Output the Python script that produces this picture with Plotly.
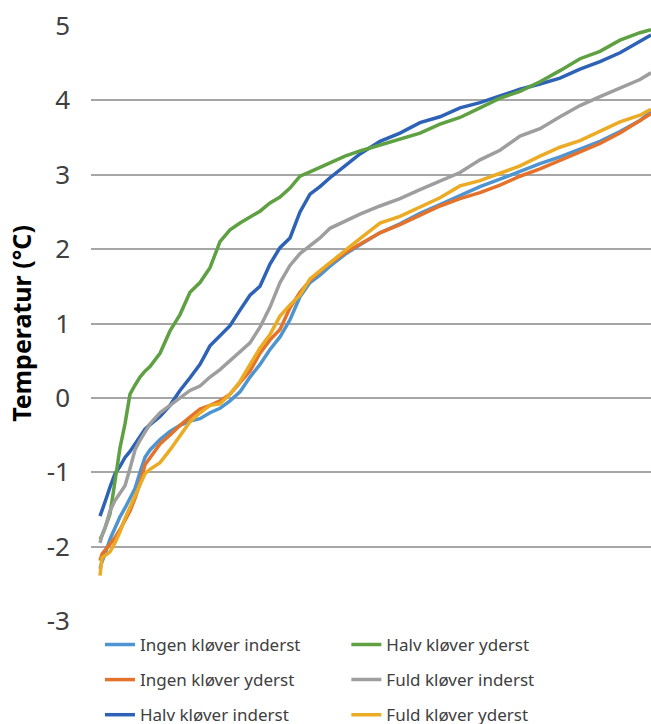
import plotly.graph_objects as go

# sample positions (time steps, axis unlabeled)
steps = [0, 2, 5, 10, 15, 20, 25, 30, 35, 40, 45, 50, 60, 70, 80, 90, 100, 110, 120, 130,
         140, 150, 160, 170, 180, 190, 200, 210, 220, 230, 245, 260, 280, 300, 320, 340,
         360, 380, 400, 420, 440, 460, 480, 500, 520, 540, 551]

ingen_inderst = [-2.3, -2.2, -2.1, -1.9, -1.75, -1.6, -1.48, -1.35, -1.22, -1.0, -0.8, -0.7,
                 -0.56, -0.45, -0.37, -0.31, -0.28, -0.2, -0.14, -0.04, 0.08, 0.28, 0.45, 0.65,
                 0.82, 1.05, 1.36, 1.55, 1.65, 1.77, 1.93, 2.06, 2.22, 2.34, 2.48, 2.60, 2.72,
                 2.84, 2.94, 3.05, 3.15, 3.24, 3.34, 3.45, 3.58, 3.73, 3.85]
ingen_yderst = [-2.19, -2.1, -2.05, -1.97, -1.88, -1.77, -1.65, -1.52, -1.35, -1.15, -0.9, -0.8,
                -0.62, -0.5, -0.37, -0.26, -0.15, -0.1, -0.04, 0.05, 0.2, 0.36, 0.6, 0.78,
                0.92, 1.21, 1.42, 1.58, 1.7, 1.81, 1.95, 2.06, 2.22, 2.33, 2.45, 2.58, 2.68,
                2.76, 2.86, 2.98, 3.08, 3.19, 3.30, 3.42, 3.56, 3.72, 3.82]
halv_inderst = [-1.59, -1.5, -1.4, -1.2, -1.02, -0.92, -0.8, -0.72, -0.62, -0.5, -0.42, -0.36,
                -0.25, -0.1, 0.1, 0.27, 0.45, 0.7, 0.84, 0.97, 1.18, 1.38, 1.5, 1.8,
                2.02, 2.15, 2.5, 2.74, 2.84, 2.96, 3.12, 3.28, 3.45, 3.56, 3.70, 3.78, 3.90,
                3.97, 4.06, 4.15, 4.22, 4.30, 4.42, 4.52, 4.64, 4.80, 4.88]
halv_yderst = [-1.9, -1.85, -1.75, -1.56, -1.12, -0.67, -0.35, 0.05, 0.17, 0.28, 0.36, 0.42,
               0.6, 0.9, 1.12, 1.42, 1.55, 1.75, 2.1, 2.26, 2.35, 2.43, 2.51, 2.62,
               2.70, 2.82, 2.98, 3.04, 3.10, 3.17, 3.25, 3.32, 3.40, 3.48, 3.56, 3.68, 3.77,
               3.90, 4.03, 4.12, 4.25, 4.40, 4.56, 4.66, 4.81, 4.91, 4.95]
fuld_inderst = [-1.95, -1.85, -1.75, -1.52, -1.38, -1.28, -1.18, -0.95, -0.7, -0.57, -0.45, -0.35,
                -0.2, -0.1, 0.0, 0.1, 0.16, 0.28, 0.38, 0.5, 0.62, 0.74, 0.95, 1.22,
                1.55, 1.78, 1.94, 2.05, 2.15, 2.28, 2.38, 2.47, 2.58, 2.68, 2.80, 2.92, 3.03,
                3.20, 3.33, 3.52, 3.62, 3.78, 3.93, 4.05, 4.16, 4.28, 4.37]
fuld_yderst = [-2.39, -2.15, -2.12, -2.07, -1.95, -1.8, -1.62, -1.48, -1.32, -1.17, -1.02, -0.96,
               -0.87, -0.7, -0.5, -0.32, -0.2, -0.1, -0.08, 0.05, 0.22, 0.45, 0.67, 0.85,
               1.1, 1.25, 1.38, 1.6, 1.71, 1.83, 1.98, 2.14, 2.35, 2.44, 2.56, 2.69, 2.85,
               2.92, 3.02, 3.12, 3.25, 3.37, 3.46, 3.58, 3.71, 3.80, 3.88]

series_names = ["Ingen kløver inderst", "Ingen kløver yderst", "Halv kløver inderst",
                "Halv kløver yderst", "Fuld kløver inderst", "Fuld kløver yderst"]
series_values = [ingen_inderst, ingen_yderst, halv_inderst, halv_yderst, fuld_inderst, fuld_yderst]
colors = ["#4E94D0", "#E5722B", "#2E62B6", "#5FA043", "#9E9E9E", "#EBAB24"]
legend_ids = ["legend", "legend", "legend", "legend2", "legend2", "legend2"]

y_ticks = [-3, -2, -1, 0, 1, 2, 3, 4, 5]

fig = go.Figure()
for name, vals, col, lg in zip(series_names, series_values, colors, legend_ids):
    fig.add_trace(go.Scatter(x=steps, y=vals, mode="lines", name=name,
                             line=dict(color=col, width=3.5), legend=lg, legendgroup=name))

legend_common = dict(orientation="v", xanchor="left", yanchor="top", bgcolor="rgba(0,0,0,0)",
                     font=dict(family="Noto Sans", size=17, color="#404040"),
                     tracegroupgap=10, traceorder="grouped", itemwidth=30)

fig.update_layout(
    width=651, height=724,
    margin=dict(l=91, r=0, t=26, b=103, autoexpand=False),
    plot_bgcolor="white", paper_bgcolor="white",
    showlegend=True,
    legend=dict(x=0.016, y=-0.01, **legend_common),
    legend2=dict(x=0.456, y=-0.01, **legend_common),
    xaxis=dict(range=[-9, 551], showgrid=False, showticklabels=False, zeroline=False,
               showline=False, ticks=""),
    yaxis=dict(range=[-3, 5], tickvals=y_ticks, ticktext=[str(v) for v in y_ticks],
               showgrid=True, gridcolor="#A6A6A6", gridwidth=1.5, zeroline=False,
               showline=False, ticks="", ticklabelstandoff=20,
               tickfont=dict(family="Noto Sans", size=26, color="#404040"),
               title=dict(text="<b>Temperatur (°C)</b>", standoff=8,
                          font=dict(family="Noto Sans", size=25, color="#000000"))),
)

fig.write_html("out.html")
